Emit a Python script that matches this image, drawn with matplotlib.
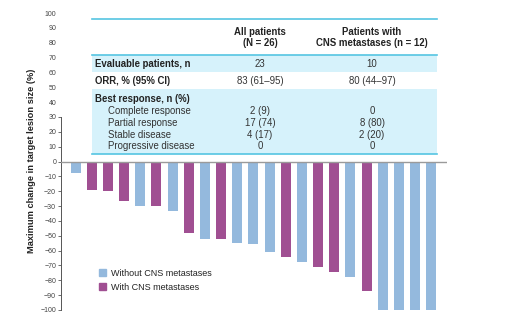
import matplotlib
matplotlib.use("Agg")
import matplotlib.pyplot as plt
from matplotlib.patches import Patch, Rectangle

plt.rcParams['font.family'] = ['Liberation Sans', 'DejaVu Sans']

# best % change per patient, sorted (waterfall)
values = [-8, -19, -20, -26.5, -30, -30, -33, -48, -52, -52, -55, -55.5, -61,
          -64, -68, -71, -74.5, -77.5, -87, -100, -100, -100, -100]
# 1 = with CNS metastases
cns = [0, 1, 1, 1, 0, 1, 0, 1, 0, 1, 0, 0, 0,
       1, 0, 1, 1, 0, 1, 0, 0, 0, 0]

col_heads = ["All patients\n(N = 26)", "Patients with\nCNS metastases (n = 12)"]
row_labels = ["Evaluable patients, n", "ORR, % (95% CI)", "Best response, n (%)"]
row_all = ["23", "83 (61\u201395)"]
row_cns = ["10", "80 (44\u201397)"]
resp_labels = ["Complete response", "Partial response", "Stable disease", "Progressive disease"]
resp_all = ["2 (9)", "17 (74)", "4 (17)", "0"]
resp_cns = ["0", "8 (80)", "2 (20)", "0"]

blue = "#94b9dd"
purple = "#a04f92"
W, H = 508, 325

fig = plt.figure(figsize=(W / 100, H / 100), dpi=100)
fig.patch.set_facecolor("white")

# main axes: spine at x=61, zero line to x=447, y 100 at 13px, -100 at 310px
ax = fig.add_axes([61 / W, (H - 310) / H, 386 / W, 297 / H])
ax.set_xlim(-0.91, 22.98)
ax.set_ylim(-100, 100)
x = list(range(len(values)))
ax.bar(x, values, width=0.62, color=[purple if c else blue for c in cns], zorder=2)
ax.axhline(0, color="#9a9a9a", lw=1.0, zorder=3)

for s in ["top", "right", "bottom"]:
    ax.spines[s].set_visible(False)
ax.spines["left"].set_bounds(-100, 30)
ax.spines["left"].set_color("#555555")
ax.spines["left"].set_linewidth(0.7)
ax.set_xticks([])
# labels on all majors, tick marks only where the spine is drawn (minor ticks)
ax.yaxis.remove_overlapping_locs = False
ax.set_yticks(range(-100, 101, 10))
ax.set_yticks(range(-100, 31, 10), minor=True)
ax.tick_params(axis="y", which="major", labelsize=5, length=0,
               labelcolor="#444444", pad=3.5)
ax.tick_params(axis="y", which="minor", length=2, width=0.6, color="#555555")
ax.patch.set_alpha(0)

fig.text(32 / W, 1 - 161 / H, "Maximum change in target lesion size (%)",
         rotation=90, ha="center", va="center", fontsize=6.7, fontweight="bold",
         color="#222222")

leg = ax.legend(handles=[Patch(color=blue, label="Without CNS metastases"),
                         Patch(color=purple, label="With CNS metastases")],
                loc="upper left", bbox_to_anchor=(95 / W, 1 - 265 / H),
                bbox_transform=fig.transFigure, frameon=False, fontsize=6.5,
                handlelength=0.8, handleheight=0.8, handletextpad=0.55,
                labelspacing=0.6, borderaxespad=0)
for t in leg.get_texts():
    t.set_color("#222222")

# table overlay in pixel coordinates
ov = fig.add_axes([0, 0, 1, 1])
ov.set_xlim(0, W)
ov.set_ylim(H, 0)
ov.axis("off")
ov.patch.set_alpha(0)

x0, x1 = 92, 437
c1, c2 = 260, 372
light = "#d6f2fb"
line = "#55c5e2"
ov.add_patch(Rectangle((x0, 55), x1 - x0, 17, color=light, lw=0))
ov.add_patch(Rectangle((x0, 89), x1 - x0, 65, color=light, lw=0))
ov.plot([x0, x1], [19, 19], color=line, lw=1.2)
ov.plot([x0, x1], [55, 55], color=line, lw=1.2)
ov.plot([x0, x1], [154, 154], color=line, lw=1.2)

fs = 6.9
ov.text(c1, 37.5, col_heads[0], ha="center", va="center", fontsize=fs,
        fontweight="bold", color="#222222", linespacing=1.1)
ov.text(c2, 37.5, col_heads[1], ha="center", va="center", fontsize=fs,
        fontweight="bold", color="#222222", linespacing=1.1)

row_y = [64, 81.5, 99]
for i, lab in enumerate(row_labels):
    ov.text(95, row_y[i], lab, ha="left", va="center", fontsize=fs,
            fontweight="bold", color="#222222")
for i in range(2):
    ov.text(c1, row_y[i], row_all[i], ha="center", va="center", fontsize=fs, color="#333333")
    ov.text(c2, row_y[i], row_cns[i], ha="center", va="center", fontsize=fs, color="#333333")

resp_y = [111.5, 123, 134.5, 146]
for i, lab in enumerate(resp_labels):
    ov.text(108, resp_y[i], lab, ha="left", va="center", fontsize=fs, color="#333333")
    ov.text(c1, resp_y[i], resp_all[i], ha="center", va="center", fontsize=fs, color="#333333")
    ov.text(c2, resp_y[i], resp_cns[i], ha="center", va="center", fontsize=fs, color="#333333")

fig.savefig("out.png", dpi=100)
